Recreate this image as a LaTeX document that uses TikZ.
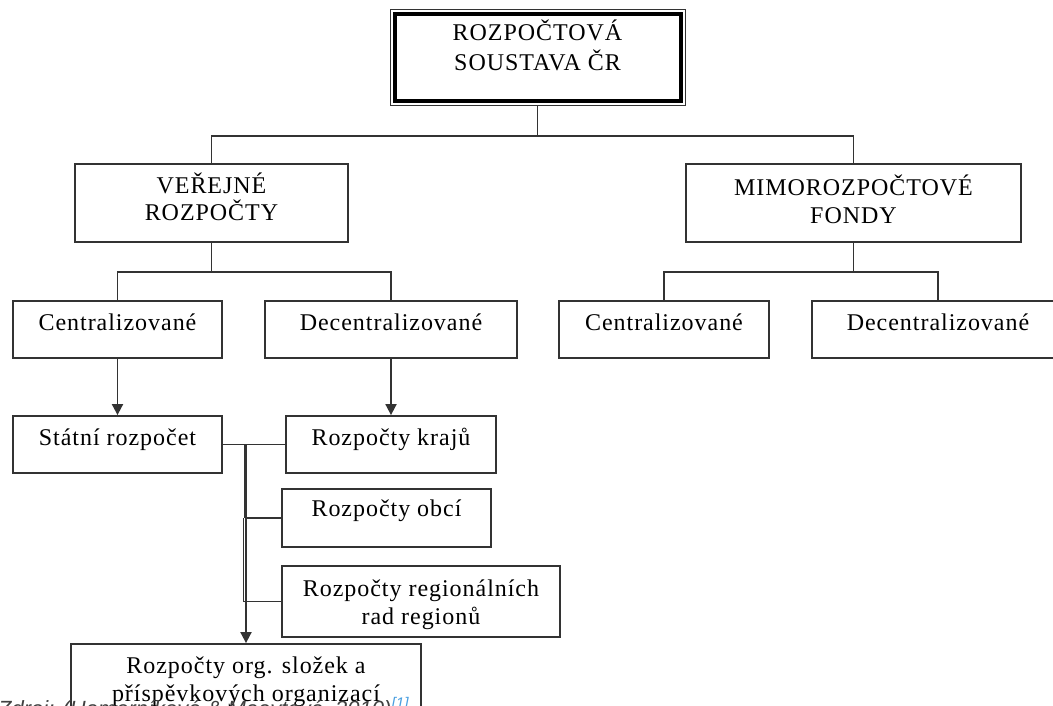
\documentclass[tikz,border=0pt]{standalone}
\usepackage{fontspec}
\newfontfamily\boxfont[LetterSpace=4]{Liberation Serif}
\newfontfamily\capfont{Liberation Sans}
\usetikzlibrary{arrows.meta}
\definecolor{linegray}{HTML}{333333}
\definecolor{reflink}{HTML}{4A9FE0}

\begin{document}
\begin{tikzpicture}[x=1pt, y=-1pt,
  box/.style={draw=linegray, line width=1.8pt, rectangle, align=center, inner sep=0pt, font=\boxfont\fontsize{24}{28}\selectfont},
  lift/.style 2 args={text height=#1pt, text depth=#2pt},
  link/.style={draw=linegray, line width=1.8pt},
  arr/.style={link, -{Triangle[width=11pt, length=11pt]}}]
\useasboundingbox (0,0) rectangle (1053,706);
\clip (0,0) rectangle (1053,706);
\node[box, lift={48}{22}, minimum width=295pt, minimum height=96pt, line width=1pt, font=\boxfont\fontsize{24}{30}\selectfont] (rs) at (537.5,58) {ROZPOČTOVÁ\\SOUSTAVA ČR};
\draw[draw=black, line width=4pt] ([xshift=5pt,yshift=-5pt]rs.north west) rectangle ([xshift=-5pt,yshift=5pt]rs.south east);
\node[box, lift={46}{10}, minimum width=273pt, minimum height=78pt] (vr) at (211.5,203) {VEŘEJNÉ\\ROZPOČTY};
\node[box, lift={46}{6}, minimum width=335pt, minimum height=78pt] (mf) at (853.5,203) {MIMOROZPOČTOVÉ\\FONDY};
\node[box, lift={18}{17}, minimum width=209pt, minimum height=57pt] (vrc) at (117.5,329.5) {Centralizované};
\node[box, lift={18}{17}, minimum width=252pt, minimum height=57pt] (vrd) at (391,329.5) {Decentralizované};
\node[box, lift={18}{17}, minimum width=210pt, minimum height=57pt] (mfc) at (664,329.5) {Centralizované};
\node[box, lift={18}{17}, minimum width=252pt, minimum height=57pt] (mfd) at (938,329.5) {Decentralizované};
\node[box, lift={18}{17}, minimum width=209pt, minimum height=57pt] (sr) at (117.5,444.5) {Státní rozpočet};
\node[box, lift={18}{17}, minimum width=210pt, minimum height=57pt] (kr) at (391,444.5) {Rozpočty krajů};
\node[box, lift={18}{22}, minimum width=209pt, minimum height=58pt] (ob) at (386.5,518) {Rozpočty obcí};
\node[box, lift={46}{1}, minimum width=278pt, minimum height=71pt] (rr) at (421,601.5) {Rozpočty regionálních\\rad regionů};
\node[box, lift={46}{4}, minimum width=350pt, minimum height=72pt] (org) at (246,680) {Rozpočty org. složek a\\příspěvkových organizací};
\coordinate (b1) at (537.5,136);
\coordinate (b2) at (211.5,272);
\coordinate (b3) at (853.5,272);
\draw[link] (rs) -- (b1);
\draw[link] (vr) |- (b1) -| (mf);
\draw[link] (vr) -- (b2);
\draw[link] (vrc) |- (b2) -| (vrd);
\draw[link] (mf) -- (b3);
\draw[link] (mfc) |- (b3) -| (mfd);
\draw[arr] (vrc) -- (sr);
\draw[arr] (vrd) -- (kr);
\draw[link] (sr) -- (kr);
\coordinate (j1) at (245,444.5);
\coordinate (j2) at (245,518);
\draw[link] (j2) -- (ob);
\draw[link] ([xshift=-1.5pt]j2) |- (rr);
\draw[arr] (j1 -| org) -- (org);
\draw[link, line width=3pt] (j1) -- (j2);
\node[anchor=base west, inner sep=0pt, font=\capfont\itshape\fontsize{22}{26}\selectfont, text=black!75] (src) at (-2,716) {Zdroj: (Hamerníková \& Maaytová, 2010)\textsuperscript{\color{reflink}[1]}};
\end{tikzpicture}
\end{document}
